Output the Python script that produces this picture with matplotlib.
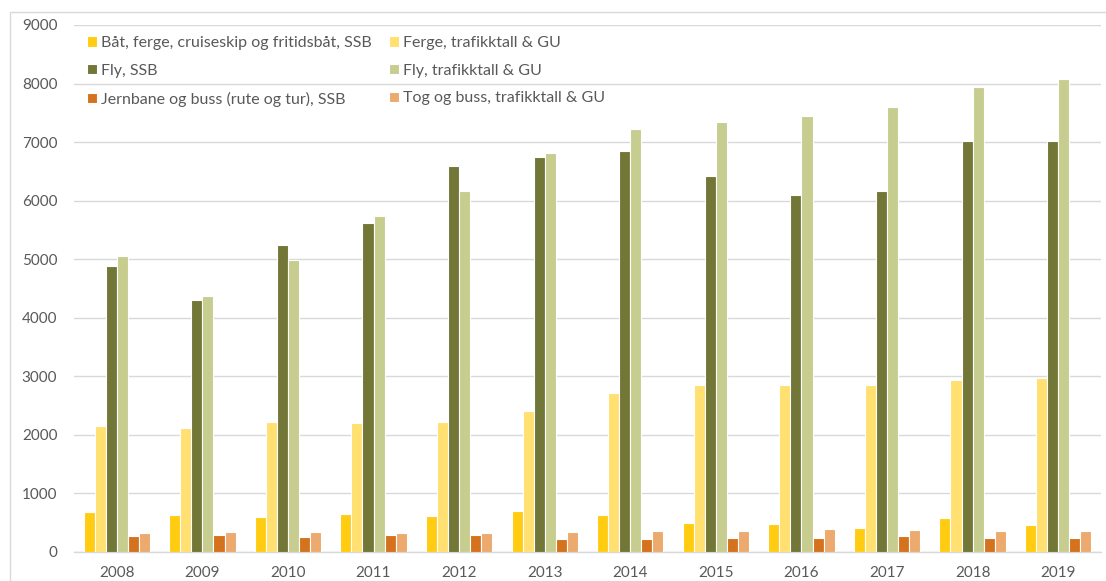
import matplotlib
matplotlib.use("Agg")
import matplotlib.pyplot as plt
import numpy as np
from matplotlib.patches import Rectangle

years = ["2008", "2009", "2010", "2011", "2012", "2013", "2014", "2015", "2016", "2017", "2018", "2019"]

baat_ssb = [672, 621, 598, 638, 604, 701, 627, 484, 479, 410, 570, 450]
ferge_gu = [2142, 2108, 2216, 2193, 2216, 2400, 2707, 2850, 2850, 2850, 2935, 2963]
fly_ssb = [4890, 4303, 5245, 5621, 6597, 6751, 6840, 6418, 6092, 6161, 7010, 7010]
fly_gu = [5050, 4377, 4983, 5741, 6166, 6810, 7224, 7337, 7445, 7600, 7943, 8080]
jern_ssb = [262, 291, 251, 291, 291, 217, 217, 228, 228, 262, 228, 228]
tog_gu = [313, 330, 330, 325, 313, 336, 348, 359, 382, 376, 359, 348]

series = [
    ("Båt, ferge, cruiseskip og fritidsbåt, SSB", baat_ssb, "#FFCC12"),
    ("Ferge, trafikktall & GU", ferge_gu, "#FFE070"),
    ("Fly, SSB", fly_ssb, "#727637"),
    ("Fly, trafikktall & GU", fly_gu, "#C7CD8F"),
    ("Jernbane og buss (rute og tur), SSB", jern_ssb, "#D4721E"),
    ("Tog og buss, trafikktall & GU", tog_gu, "#EDAA6F"),
]

plt.rcParams['font.family'] = ['Lato', 'DejaVu Sans']

fig = plt.figure(figsize=(11.06, 5.81), dpi=100)
W, H = 1106, 581
ax_l, ax_r, ax_t, ax_b = 74, 1101, 25, 551.7
ax = fig.add_axes([ax_l / W, 1 - ax_b / H, (ax_r - ax_l) / W, (ax_b - ax_t) / H])

# outer chart frame
fig.patches.append(Rectangle((10 / W, -0.1), 1.2, 1 - 12.5 / H + 0.1, transform=fig.transFigure,
                             fill=False, edgecolor="#D9D9D9", linewidth=1.0))

x = np.arange(len(years))
pitch = 0.1293
handles = {}
for i, (label, vals, color) in enumerate(series):
    off = (i - 2.5) * pitch
    b = ax.bar(x + off, vals, width=pitch, color=color, edgecolor="white", linewidth=0.8,
               label=label, zorder=3)
    handles[label] = b

ax.set_xlim(-0.5, 11.5)
ax.set_ylim(0, 9000)
ax.set_yticks(np.arange(0, 9001, 1000))
ax.set_yticklabels([str(v) for v in range(0, 9001, 1000)])
ax.set_xticks(x)
ax.set_xticklabels(years)
ax.grid(axis='y', color="#D9D9D9", linewidth=1.0, zorder=0)
ax.set_axisbelow(True)
for s in ["top", "right", "left"]:
    ax.spines[s].set_visible(False)
ax.spines["bottom"].set_color("#D9D9D9")
ax.spines["bottom"].set_linewidth(1.0)
ax.tick_params(axis='both', length=0, colors="#595959", labelsize=11)
ax.tick_params(axis='x', pad=10)
ax.tick_params(axis='y', pad=12)

order = [0, 2, 4, 1, 3, 5]
labels = [series[k][0] for k in order]
hs = [handles[l] for l in labels]
leg = ax.legend(hs, labels, ncol=2, loc="upper left",
                bbox_to_anchor=((87 - ax_l) / (ax_r - ax_l), 1 - 11 / (ax_b - ax_t)),
                frameon=False, fontsize=11.5, labelcolor="#595959",
                handlelength=0.65, handleheight=0.65, handletextpad=0.25,
                columnspacing=1.05, labelspacing=0.86, borderaxespad=0.0, borderpad=0.0)

fig.savefig("out.png", dpi=100, facecolor="white")
